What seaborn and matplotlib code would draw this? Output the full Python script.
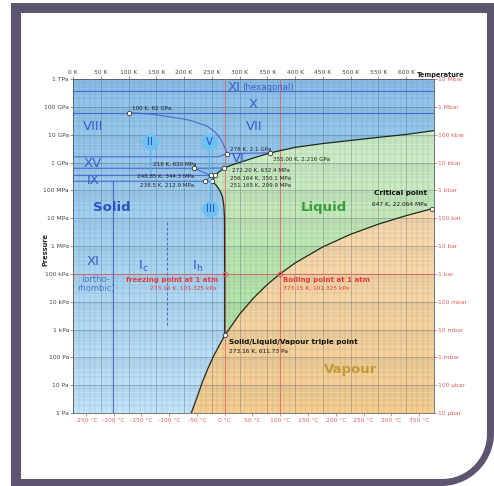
import numpy as np
import matplotlib
matplotlib.use("Agg")
import matplotlib.pyplot as plt
import seaborn as sns
from matplotlib.path import Path
from matplotlib.patches import PathPatch, Polygon
from matplotlib.colors import LinearSegmentedColormap
from matplotlib.ticker import FixedLocator, MultipleLocator, NullFormatter

# ---------------- data (temperature in K, pressure in Pa) ----------------
sub_T = [213.0, 223.0, 233.0, 243.0, 253.0, 263.0, 273.16]
sub_P = [1.0, 3.5, 13.0, 40.0, 110.0, 260.0, 611.73]

vap_T = [273.16, 300.0, 325.0, 350.0, 373.15, 400.0, 450.0, 500.0, 550.0, 600.0, 647.0]
vap_P = [611.73, 3537.0, 13510.0, 41680.0, 101325.0, 245770.0, 932200.0,
         2639200.0, 6117000.0, 12345000.0, 22064000.0]

ih_T = [273.16, 273.15, 272.8, 271.5, 269.0, 264.2, 258.2, 251.165]
ih_P = [611.73, 101325.0, 1e7, 3e7, 6e7, 1e8, 1.5e8, 2.099e8]

iii_T = [251.165, 256.164]
iii_P = [2.099e8, 3.501e8]

v_T = [256.164, 263.0, 272.2]
v_P = [3.501e8, 4.6e8, 6.324e8]

vi_T = [272.2, 285.0, 300.0, 320.0, 340.0, 355.0]
vi_P = [6.324e8, 8.0e8, 1.0e9, 1.35e9, 1.8e9, 2.216e9]

vii_T = [355.0, 400.0, 450.0, 500.0, 550.0, 600.0, 650.0]
vii_P = [2.216e9, 3.5e9, 4.8e9, 6.2e9, 8.0e9, 10.2e9, 14.0e9]

# ice / ice boundaries
viii_T = [100, 140, 180, 210, 240, 255, 265, 272, 278]
viii_P = [62e9, 55e9, 42e9, 33e9, 21e9, 13e9, 7.5e9, 4e9, 2.1e9]
hex_T, hex_P = [0, 650], [3.6e11, 3.6e11]
x_T, x_P = [0, 650], [62e9, 62e9]
xv_T, xv_P = [0, 262, 278], [1.6e9, 1.6e9, 2.1e9]
vi_vii_T, vi_vii_P = [278, 355], [2.1e9, 2.216e9]
v_vi_T, v_vi_P = [0, 218, 272.2], [6.2e8, 6.2e8, 6.324e8]
ii_v_T, ii_v_P = [218, 248.85], [6.2e8, 3.443e8]
ix_T, ix_P = [0, 248.85, 256.164], [3.443e8, 3.443e8, 3.501e8]
ii_iii_T, ii_iii_P = [238.5, 248.85], [2.129e8, 3.443e8]
ih_ii_T, ih_ii_P = [0, 238.5, 251.165], [2.129e8, 2.129e8, 2.099e8]
xi_T, xi_P = [72, 72], [1.0, 2.129e8]
ic_T, ic_P = [170, 170], [1.5e3, 7e6]

# labelled points
pt_T = [100, 278, 355, 218, 272.2, 248.85, 256.164, 238.5, 251.165, 273.16, 647]
pt_P = [62e9, 2.1e9, 2.216e9, 6.2e8, 6.324e8, 3.443e8, 3.501e8, 2.129e8, 2.099e8, 611.73, 22.064e6]
atm_T = [273.15, 373.15]
atm_P = [101325.0, 101325.0]

# axis ticks
p_ticks = [10.0 ** i for i in range(13)]
p_labels = ["1 Pa", "10 Pa", "100 Pa", "1 kPa", "10 kPa", "100 kPa", "1 MPa",
            "10 MPa", "100 MPa", "1 GPa", "10 GPa", "100 GPa", "1 TPa"]
bar_labels = ["10 µbar", "100 µbar", "1 mbar", "10 mbar", "100 mbar", "1 bar",
              "10 bar", "100 bar", "1 kbar", "10 kbar", "100 kbar", "1 Mbar", "10 Mbar"]
k_ticks = list(range(0, 601, 50))
k_labels = [f"{k} K" for k in k_ticks]
c_ticks = list(range(-250, 351, 50))
c_labels = [f"{c} °C" for c in c_ticks]

# ---------------- figure & card frame ----------------
W, H = 494, 486
sns.set_theme(style="white")
plt.rcParams["font.family"] = ["DejaVu Sans"]
fig = plt.figure(figsize=(W / 100, H / 100), dpi=100)
fig.patch.set_facecolor("white")


def card(x0, y0, x1, y1, r):
    t = np.linspace(0, np.pi / 2, 40)
    cx, cy = x1 - r, y1 - r
    pts = [(x0, y0), (x1, y0), (x1, cy)]
    pts += [(cx + r * np.cos(a), cy + r * np.sin(a)) for a in t]
    pts += [(x0, y1)]
    return [(x / W, 1 - y / H) for x, y in pts]


fig.add_artist(Polygon(card(11, 3, 494, 486, 53), closed=True, transform=fig.transFigure,
                       facecolor="#5d5470", edgecolor="none", zorder=0))
fig.add_artist(Polygon(card(21, 13, 487, 479, 45), closed=True, transform=fig.transFigure,
                       facecolor="white", edgecolor="none", zorder=0))

ax = fig.add_axes([73 / W, 1 - 413 / H, 361 / W, 334 / H])
ax.set_yscale("log")
ax.set_xlim(0, 650)
ax.set_ylim(1, 1e12)
ax.set_autoscale_on(False)
ax.set_facecolor("none")

grad = np.linspace(0, 1, 256).reshape(-1, 1)


def gradient(c_bot, c_top, z, clip=None):
    cmap = LinearSegmentedColormap.from_list("g", [c_bot, c_top])
    im = ax.imshow(grad, cmap=cmap, extent=(0, 1, 0, 1), transform=ax.transAxes,
                   aspect="auto", origin="lower", zorder=z, interpolation="bilinear")
    if clip is not None:
        im.set_clip_path(clip)
    return im


def region(verts):
    patch = PathPatch(Path(verts), transform=ax.transData, facecolor="none",
                      edgecolor="none")
    ax.add_patch(patch)
    return patch


# solid background
gradient("#c2e3f8", "#8cc2ec", 0)

liq = (list(zip(ih_T, ih_P)) + list(zip(iii_T, iii_P))[1:] + list(zip(v_T, v_P))[1:]
       + list(zip(vi_T, vi_P))[1:] + list(zip(vii_T, vii_P))[1:]
       + [(vii_T[-1], vap_P[-1]), (vap_T[-1], vap_P[-1])]
       + list(zip(vap_T, vap_P))[::-1])
gradient("#a2dd94", "#daf1d3", 1, region(liq))

vap = ([(sub_T[0], 1.0)] + list(zip(sub_T, sub_P))[1:] + list(zip(vap_T, vap_P))[1:]
       + [(vii_T[-1], vap_P[-1]), (vii_T[-1], 1.0)])
gradient("#f5cd90", "#fbe5c6", 1, region(vap))

# grid
ax.set_axisbelow(False)
ax.xaxis.set_major_locator(MultipleLocator(50))
ax.xaxis.set_minor_locator(MultipleLocator(10))
ax.yaxis.set_major_locator(FixedLocator(p_ticks))
ax.yaxis.set_minor_locator(FixedLocator([m * 10.0 ** i for i in range(12) for m in range(2, 10)]))
ax.grid(which="major", color="#3c5060", alpha=0.40, lw=0.55)
ax.grid(which="minor", color="#3c5060", alpha=0.24, lw=0.35)
ax.tick_params(which="both", bottom=False, labelbottom=False, top=False, right=False)
ax.tick_params(which="minor", left=False)
ax.tick_params(axis="y", which="major", left=True, length=2, width=0.5, color="#666",
               labelsize=4.3, labelcolor="#444", pad=1)
ax.set_yticklabels(p_labels)
ax.yaxis.set_minor_formatter(NullFormatter())
for s in ax.spines.values():
    s.set_color("#666")
    s.set_linewidth(0.6)

# reference lines at 0 °C, 100 °C and 1 atm
red = "#e06060"
for t in atm_T:
    ax.axvline(t, color=red, lw=0.8, alpha=0.8, zorder=3)
ax.axhline(atm_P[0], color=red, lw=0.8, alpha=0.8, zorder=3)

# ice/ice boundaries
blue = "#3a5cc8"
for tt, pp in [(hex_T, hex_P), (x_T, x_P), (viii_T, viii_P), (xv_T, xv_P),
               (vi_vii_T, vi_vii_P), (v_vi_T, v_vi_P), (ii_v_T, ii_v_P), (ix_T, ix_P),
               (ii_iii_T, ii_iii_P), (ih_ii_T, ih_ii_P), (xi_T, xi_P)]:
    sns.lineplot(x=tt, y=pp, ax=ax, color=blue, lw=0.8, alpha=0.85, sort=False,
                 estimator=None, zorder=4, legend=False)
ax.plot(ic_T, ic_P, color=blue, lw=0.8, ls=(0, (2.5, 2)), alpha=0.85, zorder=4)

# phase boundaries of liquid and vapour
dark = "#1e2a1e"
for tt, pp in [(sub_T, sub_P), (vap_T, vap_P), (ih_T, ih_P), (iii_T, iii_P),
               (v_T, v_P), (vi_T, vi_P), (vii_T, vii_P)]:
    sns.lineplot(x=tt, y=pp, ax=ax, color=dark, lw=0.9, sort=False,
                 estimator=None, zorder=5, legend=False)

ax.plot(pt_T, pt_P, "o", ms=3.2, mfc="white", mec="#333", mew=0.6, zorder=6)
ax.plot(atm_T, atm_P, "o", ms=3.2, mfc="none", mec=red, mew=0.7, zorder=6)

# bubbles for small phases
for name, t, lp, stem in [("II", 139, 9.74, 8.62), ("V", 245, 9.74, 8.62), ("III", 247, 7.33, 8.37)]:
    ax.plot([t, t], [10 ** lp, 10 ** stem], color="#4fb2ec", lw=0.9, zorder=6)
    ax.plot([t], [10 ** lp], "o", ms=12, mfc="#6cc0f2", mec="none", zorder=7)
    ax.text(t, 10 ** lp, name, color="#2a4fc4", fontsize=7.5, ha="center", va="center", zorder=8)

# region labels
def lab(t, lp, s, **kw):
    kw.setdefault("ha", "center")
    kw.setdefault("va", "center")
    ax.text(t, 10 ** lp, s, zorder=9, **kw)


rn = dict(color=blue, fontsize=9.5)
lab(279, 11.71, "XI", ha="left", **rn)
lab(305, 11.70, "(hexagonal)", ha="left", color=blue, fontsize=6.2)
lab(324, 11.10, "X", **rn)
lab(36, 10.28, "VIII", **rn)
lab(326, 10.28, "VII", **rn)
lab(36, 8.98, "XV", **rn)
lab(297, 9.14, "VI", **rn)
lab(36, 8.37, "IX", **rn)
lab(36, 5.43, "XI", **rn)
lab(41, 4.81, "(ortho-", color="#4a78d0", fontsize=6)
lab(41, 4.47, "rhombic)", color="#4a78d0", fontsize=6)
lab(126, 5.27, r"I$_\mathregular{c}$", **rn)
lab(224, 5.27, r"I$_\mathregular{h}$", **rn)
lab(70, 7.37, "Solid", color="#2d4fc4", fontsize=9.5, fontweight="bold")
lab(452, 7.37, "Liquid", color="#3a9c3a", fontsize=9.5, fontweight="bold")
lab(500, 1.55, "Vapour", color="#c19a35", fontsize=9.5, fontweight="bold")

redt = "#e23c3c"
lab(261, 4.79, "freezing point at 1 atm", ha="right", color=redt, fontsize=5, fontweight="bold")
lab(259, 4.47, "273.15 K, 101.325 kPa", ha="right", color=redt, fontsize=4.2)
lab(378, 4.79, "Boiling point at 1 atm", ha="left", color=redt, fontsize=5, fontweight="bold")
lab(378, 4.47, "373.15 K, 101.325 kPa", ha="left", color=redt, fontsize=4.2)
lab(638, 7.90, "Critical point", ha="right", color="#111", fontsize=5.2, fontweight="bold")
lab(638, 7.51, "647 K, 22.064 MPa", ha="right", color="#111", fontsize=4.2)
lab(281, 2.55, "Solid/Liquid/Vapour triple point", ha="left", color="#111", fontsize=5.2,
    fontweight="bold")
lab(281, 2.23, "273.16 K, 611.73 Pa", ha="left", color="#111", fontsize=4.2)

small = dict(ha="left", color="#222", fontsize=4.1)
lab(106, 10.96, "100 K, 62 GPa", **small)
lab(283, 9.49, "278 K, 2.1 GPa", **small)
lab(360, 9.12, "355.00 K, 2.216 GPa", **small)
lab(144, 8.95, "218 K, 620 MPa", **small)
lab(286, 8.73, "272.20 K, 632.4 MPa", **small)
lab(115, 8.52, "248.85 K, 344.3 MPa", **small)
lab(283, 8.44, "256.164 K, 350.1 MPa", **small)
lab(121, 8.19, "238.5 K, 212.9 MPa", **small)
lab(283, 8.19, "251.165 K, 209.9 MPa", **small)

# secondary scales
ident = (lambda v: v, lambda v: v)
top = ax.secondary_xaxis("top", functions=ident)
top.xaxis.set_major_locator(FixedLocator(k_ticks))
top.set_xticklabels(k_labels)
top.tick_params(length=2, width=0.5, color="#666", labelsize=4.3, labelcolor="#444", pad=1)
top.spines["top"].set_visible(False)

bot = ax.secondary_xaxis("bottom", functions=ident)
bot.xaxis.set_major_locator(FixedLocator([c + 273.15 for c in c_ticks]))
bot.set_xticklabels(c_labels)
bot.tick_params(length=2, width=0.5, color=red, labelsize=4.3, labelcolor=red, pad=1.5)
bot.spines["bottom"].set_visible(False)

rgt = ax.secondary_yaxis("right", functions=ident)
rgt.yaxis.set_major_locator(FixedLocator(p_ticks))
rgt.yaxis.set_minor_locator(FixedLocator([]))
rgt.set_yticklabels(bar_labels)
rgt.tick_params(length=2, width=0.5, color=red, labelsize=4.3, labelcolor=red, pad=1)
rgt.spines["right"].set_visible(False)

fig.text(417 / W, 1 - 75 / H, "Temperature", fontsize=4.8, fontweight="bold",
         color="#222", ha="left", va="center")
fig.text(45 / W, 1 - 250 / H, "Pressure", fontsize=4.8, fontweight="bold",
         color="#222", ha="center", va="center", rotation=90)

fig.savefig("out.png", dpi=100)
